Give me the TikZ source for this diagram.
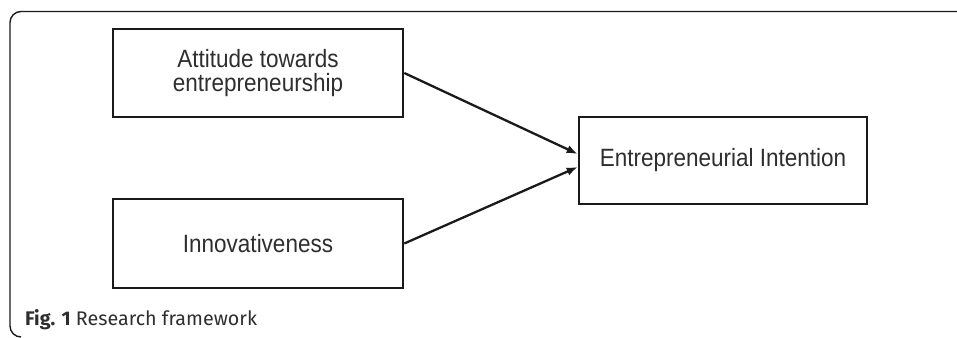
\documentclass[tikz,border=0pt]{standalone}
\usepackage{fontspec}
\setmainfont{Liberation Sans}
\newfontfamily\boxfont[FakeStretch=0.9]{Liberation Sans}
\newfontfamily\capfont{Fira Sans}
\usetikzlibrary{arrows.meta}
\definecolor{ink}{HTML}{1A1A1A}
\definecolor{txt}{HTML}{2E2E2E}
\begin{document}
\begin{tikzpicture}[x=1pt,y=1pt,
  box/.style={draw=ink, line width=2.6pt, text=txt, align=center, inner sep=0pt,
    font=\boxfont\fontsize{25}{23.5}\selectfont},
  conn/.style={draw=ink, line width=2.3pt, -{Latex[length=11pt,width=8.5pt]}}]
\useasboundingbox (0,0) rectangle (957,337);
\draw[line width=1.4pt, ink] (957,325.5) -- (21,325.5) arc[start angle=90, end angle=180, radius=11] -- (10,11) arc[start angle=180, end angle=270, radius=11];
\node[box, minimum width=290pt, minimum height=88pt] (att) at (258,264) {Attitude towards\\entrepreneurship};
\node[box, minimum width=290pt, minimum height=89pt] (inn) at (258,93.5) {Innovativeness};
\node[box, minimum width=288pt, minimum height=87pt] (ei) at (723,176.5) {Entrepreneurial Intention};
\coordinate (ein) at ([yshift=6.5pt]ei.west);
\coordinate (eis) at ([yshift=-6.5pt]ei.west);
\draw[conn] (att.east) -- (ein);
\draw[conn] (inn.east) -- (eis);
\node[anchor=base west, text=txt, font=\capfont\fontsize{19.7}{24}\selectfont, inner sep=0pt] (cap) at (25,12) {\textbf{Fig. 1} Research framework};
\end{tikzpicture}
\end{document}
